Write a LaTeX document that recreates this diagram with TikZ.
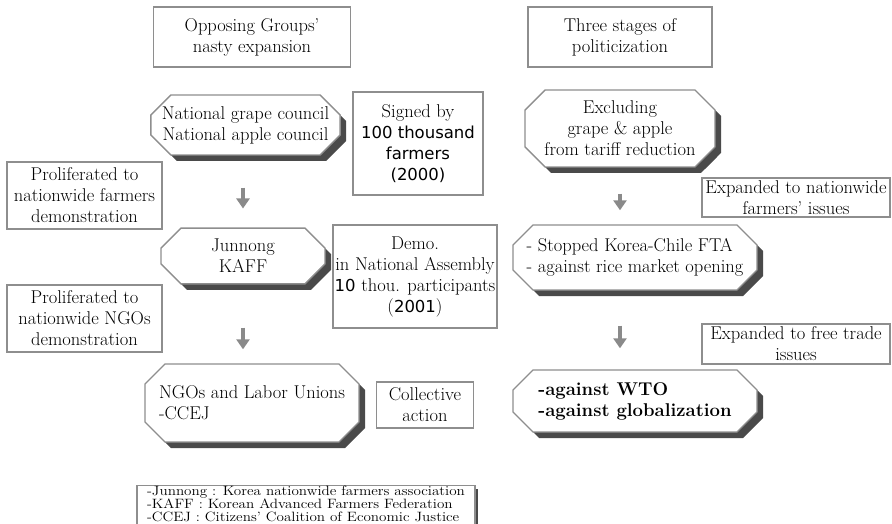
\documentclass[tikz,border=0pt]{standalone}
\usepackage{graphicx}
\usepackage{fontspec}
\newfontfamily\digitfont{DejaVu Sans}
\usetikzlibrary{arrows.meta,positioning,shapes.misc,shadows}

\definecolor{rimgray}{HTML}{8E8E8E}
\definecolor{shadegray}{HTML}{4A4A4A}
\definecolor{arrowgray}{HTML}{8A8A8A}

\newcommand\digits[1]{{\digitfont\fontsize{16.5}{21}\selectfont #1}}

\begin{document}
\begin{tikzpicture}[
  x=1pt,y=-1pt,
  font=\fontsize{18.5}{21}\selectfont,
  box/.style={draw=rimgray,line width=1.4pt,fill=white,align=center,inner sep=1pt},
  octa/.style={box,chamfered rectangle,chamfered rectangle xsep=10pt,
    chamfered rectangle ysep=10pt,
    drop shadow={shadow xshift=6pt,shadow yshift=-6pt,fill=shadegray,opacity=1}},
  flow/.style={draw=arrowgray,line width=3.5pt,-{Triangle[width=13pt,length=10pt]}}
]
\useasboundingbox (0,0) rectangle (892,524);

% left column
\node[box,minimum width=197pt,minimum height=60pt] (hdA) at (252,37) {Opposing Groups'\\nasty expansion};
\node[octa,minimum width=185pt,minimum height=60pt] (grape) at (245.5,125) {National grape council\\National apple council};
\node[box,minimum width=130pt,minimum height=103pt] (signed) at (418,143.5)
  {Signed by\\\digits{100 thousand}\\\digits{farmers}\\\digits{(2000)}};
\node[box,minimum width=155pt,minimum height=67pt] (prolA) at (84.5,195.5) {Proliferated to\\nationwide farmers\\demonstration};
\node[octa,minimum width=164pt,minimum height=52pt] (jun) at (243,256) {Junnong\\KAFF};
\node[box,minimum width=164pt,minimum height=103pt] (demo) at (415,276.5)
  {Demo.\\in National Assembly\\\digits{10} thou. participants\\(\digits{2001})};
\node[box,minimum width=155pt,minimum height=67pt] (prolB) at (84.5,318.5) {Proliferated to\\nationwide NGOs\\demonstration};
\node[octa,align=left,minimum width=214pt,minimum height=78pt] (ngo) at (252,403) {NGOs and Labor Unions\\-CCEJ};
\node[box,minimum width=97pt,minimum height=46pt] (coll) at (425,405) {Collective\\action};
\node[box,inner sep=0pt,minimum width=338pt,minimum height=34pt,
  drop shadow={shadow xshift=3pt,shadow yshift=-3pt,fill=shadegray,opacity=1}] (legend) at (306,505)
  {\scalebox{1.12}[1]{\fontsize{13.5}{11.4}\selectfont\begin{tabular}{@{}l@{}}
   -Junnong : Korea nationwide farmers association\\
   -KAFF : Korean Advanced Farmers Federation\\
   -CCEJ : Citizens' Coalition of Economic Justice\end{tabular}}};

% right column
\node[box,minimum width=184pt,minimum height=60pt] (hdB) at (620,37) {Three stages of\\politicization};
\node[octa,minimum width=190pt,minimum height=67pt] (excl) at (620,128.5) {Excluding\\grape \& apple\\from tariff reduction};
\node[box,minimum width=188pt,minimum height=39pt] (expA) at (796,197.5) {Expanded to nationwide\\farmers' issues};
\node[octa,align=left,minimum width=244pt,minimum height=65pt] (stop) at (635,257.5) {- Stopped Korea-Chile FTA\\- against rice market opening};
\node[box,minimum width=188pt,minimum height=40pt] (expB) at (796,344) {Expanded to free trade\\issues};
\node[octa,align=left,font=\fontsize{18.5}{21}\selectfont\bfseries,minimum width=244pt,minimum height=62pt] (wto) at (635,401) {-against WTO\\-against globalization};

% arrows
\draw[flow,shorten <=32pt,shorten >=19pt] (jun.north |- grape.south) -- (jun.north);
\draw[flow,shorten <=43pt,shorten >=14pt] (jun.south) -- (jun.south |- ngo.north);
\draw[flow,shorten <=26pt,shorten >=14pt] (excl.south) -- (excl.south |- stop.north);
\draw[flow,shorten <=35pt,shorten >=21pt] (excl.south |- stop.south) -- (excl.south |- wto.north);
\end{tikzpicture}
\end{document}
